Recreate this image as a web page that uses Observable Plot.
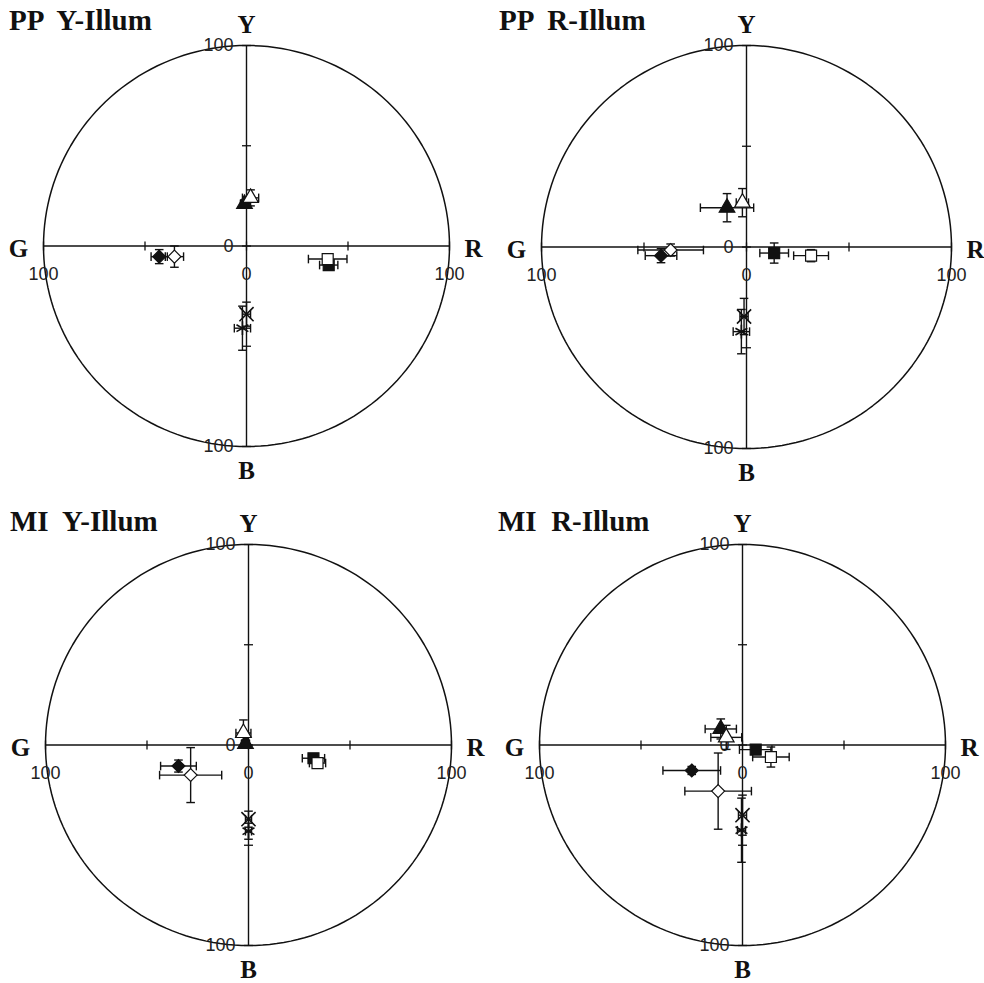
<!DOCTYPE html>
<html>
<head>
<meta charset="utf-8">
<script src="https://cdn.jsdelivr.net/npm/d3@7"></script>
<script src="https://cdn.jsdelivr.net/npm/@observablehq/plot@0.6"></script>
<style>
  html, body { margin: 0; padding: 0; background: #fff; }
  #wrap { position: relative; width: 984px; height: 983px; overflow: hidden; background: #fff; }
  .cell { position: absolute; }
  .title { position: absolute; font-family: "Liberation Serif", "Times New Roman", serif; font-weight: bold; font-size: 29px; line-height: 1; color: #111; white-space: pre; }
</style>
</head>
<body>
<div id="wrap"></div>
<script>
// ---- categories / series ----
const seriesNames   = ["Y filled", "Y open", "R filled", "R open", "G filled", "G open", "B cross", "B star"];
const seriesSymbols = ["triangle", "triangle", "square", "square", "diamond2", "diamond2", "times", "asterisk"];
const seriesFilled  = [true, false, true, false, true, false, true, false];

const panelTitles = ["PP  Y-Illum", "PP  R-Illum", "MI  Y-Illum", "MI  R-Illum"];
const axisLetters = ["Y", "G", "R", "B"];
const tickValues  = [-100, -50, 0, 50, 100];
const axisTickLabels = ["100", "0", "100"];
const axisTickPositions = [-100, 0, 100];

// ---- values (x: G(-) .. R(+), y: B(-) .. Y(+)) ----
const ppY_x  = [-1, 2, 40.5, 40, -43, -35.5, 0, -2];
const ppY_y  = [21, 24, -9.5, -6.5, -5.3, -5.3, -34, -41];
const ppY_ex = [2, 4, 4.5, 9.5, 4, 4.5, 2, 4];
const ppY_ey = [2, 4, 2, 2, 3.5, 5.3, 6, 11];

const ppR_x  = [-9.5, -2, 13.5, 31.5, -41.7, -37, -1.2, -2.5];
const ppR_y  = [19.5, 22, -3, -4.3, -4.3, -1.5, -34.5, -42];
const ppR_ex = [13, 3, 7, 8.5, 7.7, 16, 2, 4];
const ppR_ey = [7, 7, 5, 3, 3.5, 3, 9, 11];

const miY_x  = [-1.5, -2.5, 32, 34, -34.5, -28.5, 0, 0];
const miY_y  = [0.5, 6, -6.6, -9, -10.5, -15, -37, -43];
const miY_ex = [2, 3.7, 5.5, 4, 8.8, 15.3, 1.5, 1.5];
const miY_ey = [2, 6.5, 2, 2, 3, 13.7, 4, 4];

const miR_x  = [-10.7, -8, 6.5, 14, -25, -12, 0, -0.5];
const miR_y  = [8, 3.8, -2.3, -6, -12.7, -23, -35, -42.5];
const miR_ex = [7.7, 7.6, 8, 9, 14.2, 16.4, 2, 2];
const miR_ey = [5, 6, 2, 5, 2, 19, 10, 16];

const CIRCLE_RADIUS = 100;

// ---- layout ----
const panels = [
  {title: panelTitles[0], X: ppY_x, Y: ppY_y, EX: ppY_ex, EY: ppY_ey, left: 0,   top: 0,   ml: 43, mr: 43, mt: 45, mb: 45, tx: 9,   ty: 6},
  {title: panelTitles[1], X: ppR_x, Y: ppR_y, EX: ppR_ex, EY: ppR_ey, left: 492, top: 0,   ml: 49, mr: 33, mt: 45, mb: 43, tx: 499, ty: 6},
  {title: panelTitles[2], X: miY_x, Y: miY_y, EX: miY_ex, EY: miY_ey, left: 0,   top: 492, ml: 45, mr: 41, mt: 52, mb: 38, tx: 10,  ty: 507},
  {title: panelTitles[3], X: miR_x, Y: miR_y, EX: miR_ex, EY: miR_ey, left: 492, top: 492, ml: 47, mr: 39, mt: 52, mb: 38, tx: 498, ty: 507}
];

const vline = { draw(ctx, size) { const r = Math.sqrt(size / Math.PI); ctx.moveTo(0, -r); ctx.lineTo(0, r); } };
const hline = { draw(ctx, size) { const r = Math.sqrt(size / Math.PI); ctx.moveTo(-r, 0); ctx.lineTo(r, 0); } };

const circle = d3.range(0, 361, 2).map(a => ({
  x: CIRCLE_RADIUS * Math.cos(a * Math.PI / 180),
  y: CIRCLE_RADIUS * Math.sin(a * Math.PI / 180)
}));

const serif = "Liberation Serif, Times New Roman, serif";
const sans = "Liberation Sans Narrow, Arial Narrow, Liberation Sans, sans-serif";

const wrap = document.getElementById("wrap");

for (const p of panels) {
  const rows = seriesNames.map((s, i) => ({
    series: s, x: p.X[i], y: p.Y[i], ex: p.EX[i], ey: p.EY[i],
    symbol: seriesSymbols[i], filled: seriesFilled[i]
  }));
  const tickLbls = axisTickLabels.map((t, i) => ({t, v: axisTickPositions[i]}));
  const cap = {r: 4.3, stroke: "#111", strokeWidth: 1.4};

  const marks = [
    Plot.line(circle, {x: "x", y: "y", stroke: "#111", strokeWidth: 1.5}),
    Plot.ruleX([0], {y1: -100, y2: 100, stroke: "#111", strokeWidth: 1.4}),
    Plot.ruleY([0], {x1: -100, x2: 100, stroke: "#111", strokeWidth: 1.4}),
    Plot.dot(tickValues, {x: d => d, y: 0, symbol: vline, r: 4.5, stroke: "#111", strokeWidth: 1.3, fill: "none"}),
    Plot.dot(tickValues, {x: 0, y: d => d, symbol: hline, r: 4.5, stroke: "#111", strokeWidth: 1.3, fill: "none"}),
    // tick labels
    Plot.text(tickLbls, {x: "v", y: 0, text: "t", dy: 28, fontFamily: sans, fontSize: 18, fill: "#222"}),
    Plot.text(tickLbls, {x: 0, y: "v", text: "t", dx: -13, textAnchor: "end", fontFamily: sans, fontSize: 18, fill: "#222"}),
    // axis letters
    Plot.text([axisLetters[0]], {x: 0, y: 100, text: d => d, dy: -21, fontFamily: serif, fontWeight: "bold", fontSize: 25, fill: "#111"}),
    Plot.text([axisLetters[1]], {x: -100, y: 0, text: d => d, dx: -25, dy: 3, fontFamily: serif, fontWeight: "bold", fontSize: 25, fill: "#111"}),
    Plot.text([axisLetters[2]], {x: 100, y: 0, text: d => d, dx: 24, dy: 3, fontFamily: serif, fontWeight: "bold", fontSize: 25, fill: "#111"}),
    Plot.text([axisLetters[3]], {x: 0, y: -100, text: d => d, dy: 24, fontFamily: serif, fontWeight: "bold", fontSize: 25, fill: "#111"}),
    // error bars
    Plot.link(rows, {x1: d => d.x - d.ex, x2: d => d.x + d.ex, y1: "y", y2: "y", stroke: "#111", strokeWidth: 1.4}),
    Plot.link(rows, {x1: "x", x2: "x", y1: d => d.y - d.ey, y2: d => d.y + d.ey, stroke: "#111", strokeWidth: 1.4}),
    Plot.dot(rows, {x: d => d.x - d.ex, y: "y", symbol: vline, ...cap}),
    Plot.dot(rows, {x: d => d.x + d.ex, y: "y", symbol: vline, ...cap}),
    Plot.dot(rows, {x: "x", y: d => d.y - d.ey, symbol: hline, ...cap}),
    Plot.dot(rows, {x: "x", y: d => d.y + d.ey, symbol: hline, ...cap})
  ];
  // markers, one mark per series
  rows.forEach(d => {
    const isLine = d.symbol === "times" || d.symbol === "asterisk";
    marks.push(Plot.dot([d], {
      x: "x", y: "y", symbol: d.symbol,
      r: isLine ? 6.5 : (d.symbol === "square" ? 6.2 : 5.8),
      fill: isLine ? "none" : (d.filled ? "#111" : "#fff"),
      stroke: "#111", strokeWidth: isLine ? 1.6 : 1.2
    }));
  });

  const chart = Plot.plot({
    width: 492, height: 491,
    marginLeft: p.ml, marginRight: p.mr, marginTop: p.mt, marginBottom: p.mb,
    x: {domain: [-100, 100], axis: null},
    y: {domain: [-100, 100], axis: null},
    style: {background: "none", overflow: "visible"},
    marks
  });
  const cell = document.createElement("div");
  cell.className = "cell";
  cell.style.left = p.left + "px";
  cell.style.top = p.top + "px";
  cell.appendChild(chart);
  wrap.appendChild(cell);

  const t = document.createElement("div");
  t.className = "title";
  t.style.left = p.tx + "px";
  t.style.top = p.ty + "px";
  t.textContent = p.title;
  wrap.appendChild(t);
}
</script>
</body>
</html>
